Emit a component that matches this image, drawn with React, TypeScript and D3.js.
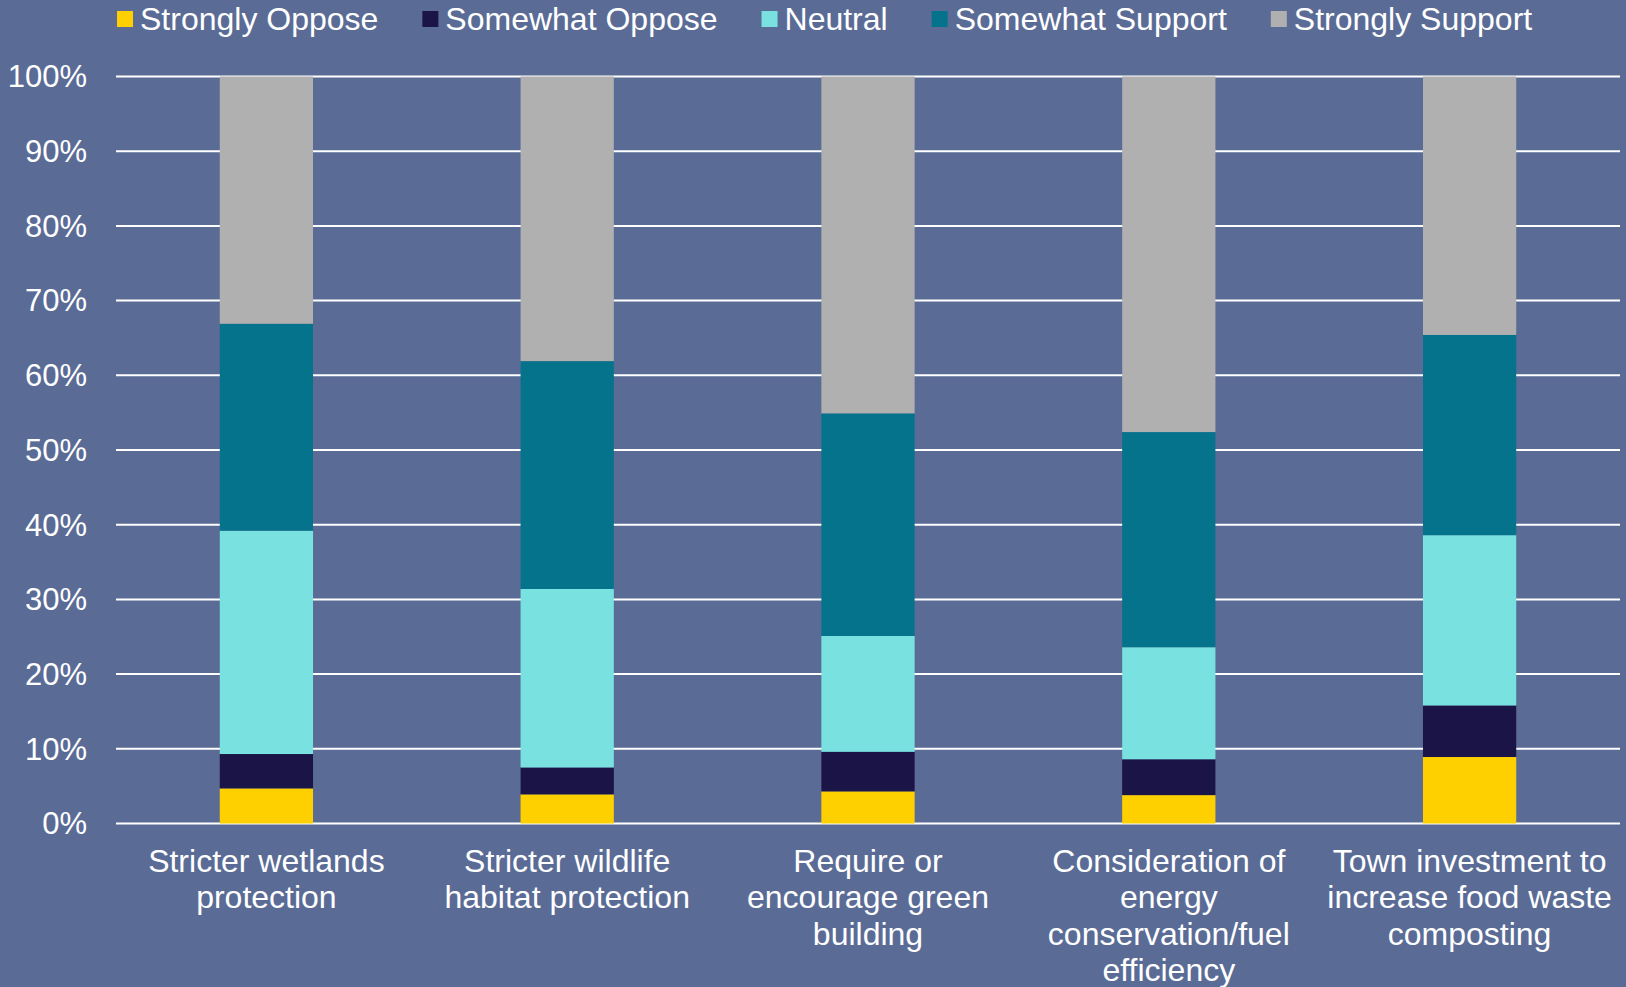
import * as d3 from 'd3'
import { FC, useEffect, useRef } from 'react'

// categories (line breaks as in the original chart)
const categories = [
  'Stricter wetlands\nprotection',
  'Stricter wildlife\nhabitat protection',
  'Require or\nencourage green\nbuilding',
  'Consideration of\nenergy\nconservation/fuel\nefficiency',
  'Town investment to\nincrease food waste\ncomposting',
]
const seriesNames = ['Strongly Oppose', 'Somewhat Oppose', 'Neutral', 'Somewhat Support', 'Strongly Support']
const stronglyOppose = [4.7, 3.9, 4.3, 3.8, 8.9]
const somewhatOppose = [4.6, 3.6, 5.3, 4.8, 6.9]
const neutral = [29.9, 23.9, 15.5, 15.0, 22.8]
const somewhatSupport = [27.7, 30.5, 29.8, 28.8, 26.8]
const stronglySupport = [33.1, 38.1, 45.1, 47.6, 34.6]
const yTicks = [0, 10, 20, 30, 40, 50, 60, 70, 80, 90, 100]

const colors = ['#FFD000', '#1B1446', '#79E2E1', '#06738C', '#B0B0B0']

const W = 1626
const H = 987
const FONT = 'Liberation Sans, Arial, sans-serif'

const App: FC = () => {
  const ref = useRef<SVGSVGElement>(null)
  useEffect(() => {
    document.body.style.margin = '0'
    draw()
  }, [])
  const draw = () => {
    const svg = d3.select(ref.current)
    svg.selectAll('*').remove()
    const padding = { top: 76.5, right: 6, bottom: 163.5, left: 116 }
    svg.append('rect').attr('width', W).attr('height', H).attr('fill', '#5A6C96')

    const table = categories.map((c, i) => ({
      name: c,
      [seriesNames[0]]: stronglyOppose[i],
      [seriesNames[1]]: somewhatOppose[i],
      [seriesNames[2]]: neutral[i],
      [seriesNames[3]]: somewhatSupport[i],
      [seriesNames[4]]: stronglySupport[i],
    }))
    const stacked = d3.stack<any>().keys(seriesNames)(table)

    const xScale = d3.scaleBand().domain(categories).range([padding.left, W - padding.right]).paddingInner(0.69).paddingOuter(0.345)
    const yScale = d3.scaleLinear().domain([0, 100]).range([H - padding.bottom, padding.top])

    // grid + y labels
    const grid = svg.append('g')
    grid.selectAll('line').data(yTicks).enter().append('line')
      .attr('x1', padding.left).attr('x2', W - padding.right)
      .attr('y1', d => yScale(d)).attr('y2', d => yScale(d))
      .attr('stroke', '#FFFFFF').attr('stroke-width', 2)
    grid.selectAll('text').data(yTicks).enter().append('text')
      .attr('x', 87).attr('y', d => yScale(d)).attr('dy', '0.35em')
      .attr('text-anchor', 'end').attr('fill', '#FFFFFF')
      .attr('font-family', FONT).attr('font-size', 31)
      .text(d => `${d}%`)

    // bars
    svg.selectAll('.layer').data(stacked).enter().append('g').attr('class', 'layer')
      .attr('fill', (d, i) => colors[i])
      .selectAll('rect').data(d => d).enter().append('rect')
      .attr('x', d => xScale(d.data.name) as number)
      .attr('y', d => yScale(d[1]))
      .attr('width', xScale.bandwidth())
      .attr('height', d => yScale(d[0]) - yScale(d[1]))

    // category labels
    const cat = svg.append('g')
    categories.forEach(c => {
      const cx = (xScale(c) as number) + xScale.bandwidth() / 2
      const t = cat.append('text')
        .attr('x', cx).attr('y', 872).attr('text-anchor', 'middle').attr('fill', '#FFFFFF')
        .attr('font-family', FONT).attr('font-size', 32)
      c.split('\n').forEach((line, j) => {
        t.append('tspan').attr('x', cx).attr('dy', j === 0 ? 0 : 36.3).text(line)
      })
    })

    // legend
    const legend = svg.append('g')
    let lx = 117
    seriesNames.forEach((s, i) => {
      legend.append('rect').attr('x', lx).attr('y', 11).attr('width', 16).attr('height', 16).attr('fill', colors[i])
      const t = legend.append('text').attr('x', lx + 23).attr('y', 19).attr('dy', '0.35em')
        .attr('fill', '#FFFFFF').attr('font-family', FONT).attr('font-size', 32).text(s)
      const w = (t.node() as SVGTextElement).getComputedTextLength()
      lx += 23 + w + 44
    })
  }
  return <svg ref={ref} width={W} height={H} style={{ display: 'block' }} />
}
export default App
